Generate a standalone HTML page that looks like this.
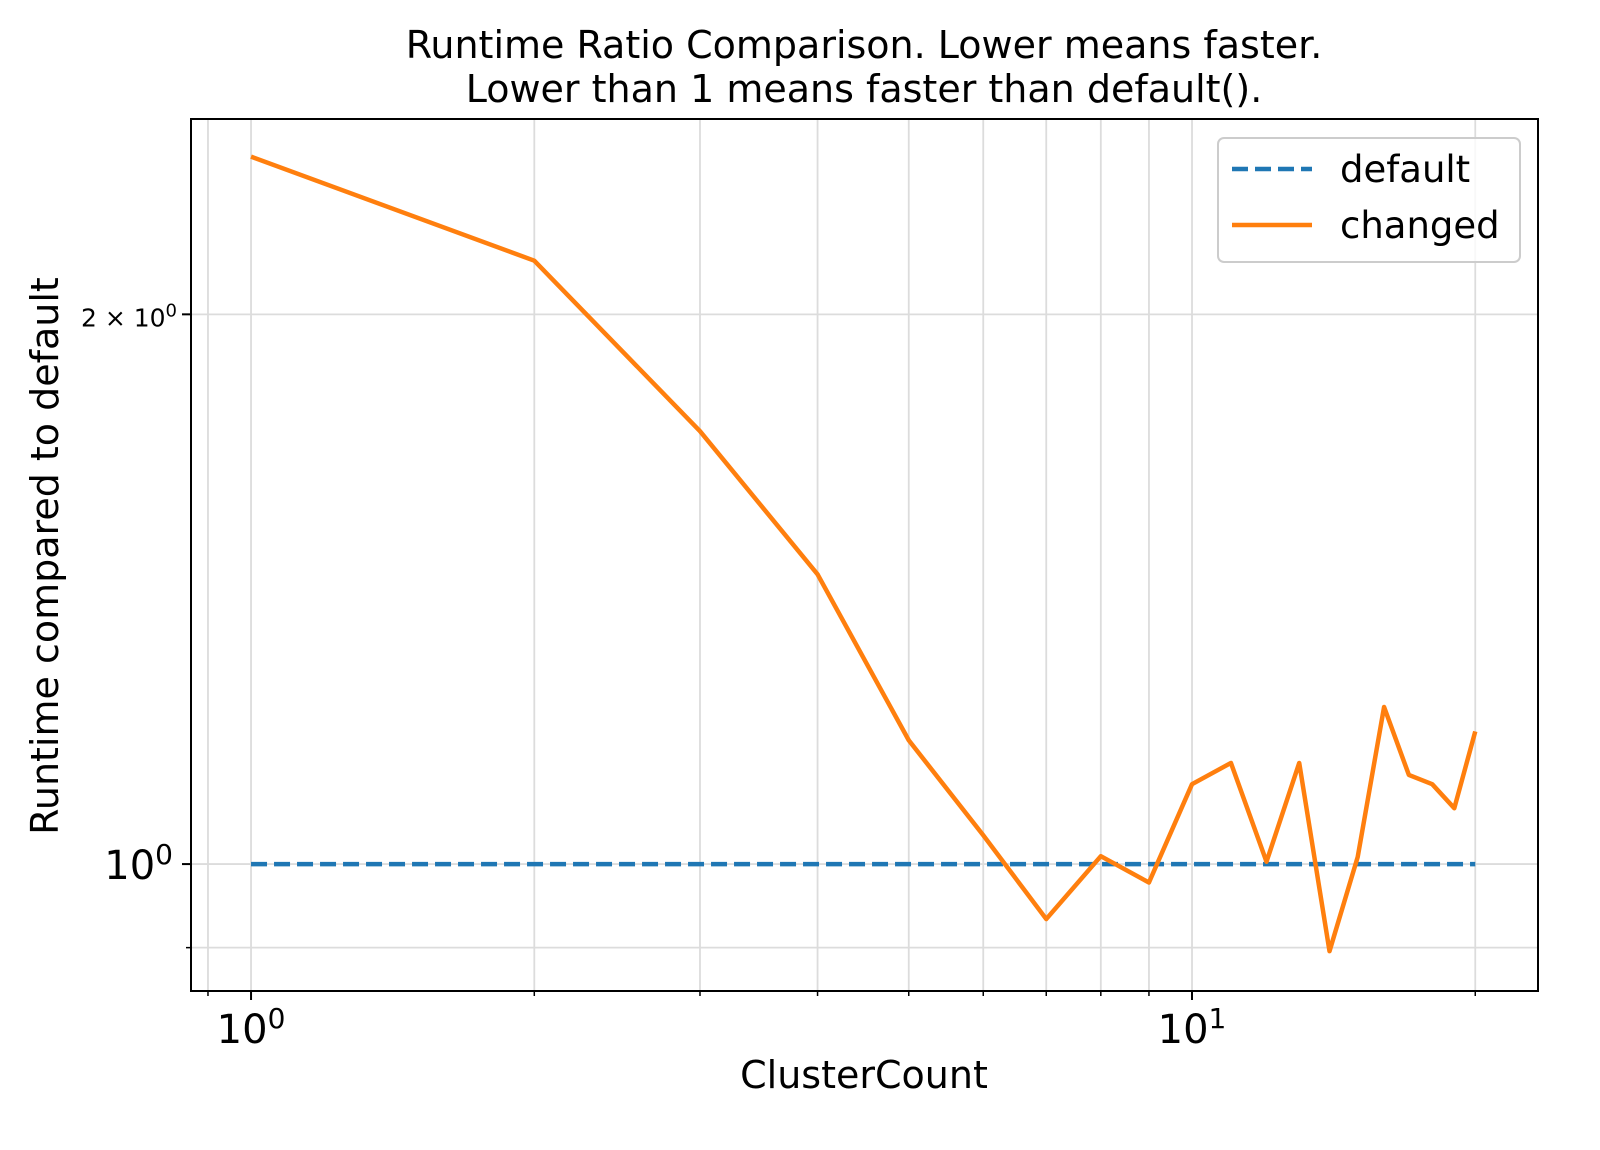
<!DOCTYPE html>
<html><head><meta charset="utf-8"><style>
body{margin:0;background:#fff;}
svg{display:block;font-family:"DejaVu Sans","Liberation Sans",sans-serif;}
</style></head><body>
<svg id="chart" width="1600" height="1150" viewBox="0 0 1600 1150" xmlns="http://www.w3.org/2000/svg">
<rect width="1600" height="1150" fill="#fff"/>
<g id="grid"></g>
<g id="series"></g>
<g id="ticks"></g>
<rect x="191" y="119" width="1347" height="872" fill="none" stroke="#000" stroke-width="2"/>
<text x="864" y="58" font-size="38" text-anchor="middle">Runtime Ratio Comparison. Lower means faster.</text>
<text x="864" y="102" font-size="38" text-anchor="middle">Lower than 1 means faster than default().</text>
<text x="864" y="1088" font-size="38" text-anchor="middle">ClusterCount</text>
<text transform="translate(58,556) rotate(-90)" font-size="38" text-anchor="middle">Runtime compared to default</text>
<g>
<rect x="1218" y="138" width="302" height="124" rx="6" fill="#fff" fill-opacity="0.8" stroke="#ccc" stroke-width="2"/>
<line x1="1232" y1="169" x2="1312" y2="169" stroke="#1f77b4" stroke-width="4.5" stroke-dasharray="16,7"/>
<text x="1340" y="182" font-size="37">default</text>
<line x1="1232" y1="225" x2="1312" y2="225" stroke="#ff7f0e" stroke-width="4.5"/>
<text x="1340" y="238" font-size="37">changed</text>
</g>
</svg>
<script>
const clusterCounts=[1,2,3,4,5,6,7,8,9,10,11,12,13,14,15,16,17,18,19,20];
const changedValues=[2.44,2.14,1.726,1.441,1.169,1.037,0.933,1.01,0.977,1.106,1.136,1.003,1.136,0.896,1.009,1.219,1.119,1.106,1.073,1.182];
const defaultValues=[1,1,1,1,1,1,1,1,1,1,1,1,1,1,1,1,1,1,1,1];
const xMajorTicks=[1,10];
const xMajorLabels=["0","1"];
const xMinorTicks=[0.9,2,3,4,5,6,7,8,9,20];
const yMajorTicks=[1,2];
const yMinorTicks=[0.9];

const NS="http://www.w3.org/2000/svg";
const L=191,R=1538,T=119,B=991;
const xLmin=-0.0638,xLmax=1.3677,yLmin=-0.0695,yLmax=0.408;
function xs(v){return L+(Math.log10(v)-xLmin)/(xLmax-xLmin)*(R-L);}
function ys(v){return B-(Math.log10(v)-yLmin)/(yLmax-yLmin)*(B-T);}
function mk(tag,attrs,parent){const e=document.createElementNS(NS,tag);for(const k in attrs)e.setAttribute(k,attrs[k]);parent.appendChild(e);return e;}
const grid=document.getElementById('grid'),ticks=document.getElementById('ticks'),series=document.getElementById('series');

[...xMajorTicks,...xMinorTicks].forEach(v=>{
 const g=mk('line',{x1:xs(v),x2:xs(v),y1:T,y2:B,stroke:'#dcdcdc','stroke-width':1.8},grid);
 
 
});
[...yMajorTicks,...yMinorTicks].forEach(v=>{
 const g=mk('line',{x1:L,x2:R,y1:ys(v),y2:ys(v),stroke:'#dcdcdc','stroke-width':1.8},grid);
 
 
});
xMajorTicks.forEach((v,i)=>{
 const t=mk('line',{x1:xs(v),x2:xs(v),y1:B,y2:B+9,stroke:'#000','stroke-width':2},ticks);
 
 
 const tx=mk('text',{x:xs(v),y:B+52,'font-size':40,'text-anchor':'middle'},ticks);
 
 
 tx.textContent='10';
 const sp=mk('tspan',{dy:-15,'font-size':28},tx);sp.textContent=xMajorLabels[i];
});
xMinorTicks.forEach(v=>{
 const t=mk('line',{x1:xs(v),x2:xs(v),y1:B,y2:B+5,stroke:'#000','stroke-width':1.5},ticks);
 
 
});
yMajorTicks.forEach(v=>{
 const t=mk('line',{x1:L-9,x2:L,y1:ys(v),y2:ys(v),stroke:'#000','stroke-width':2},ticks);
 
 
});
yMinorTicks.forEach(v=>{
 const t=mk('line',{x1:L-5,x2:L,y1:ys(v),y2:ys(v),stroke:'#000','stroke-width':1.5},ticks);
 
 
});
const y1=mk('text',{x:L-18,y:ys(1)+15,'font-size':40,'text-anchor':'end'},ticks);


y1.textContent='10';
const y1s=mk('tspan',{dy:-15,'font-size':28},y1);y1s.textContent='0';
const y2=mk('text',{x:L-14,y:ys(2)+12,'font-size':25,'text-anchor':'end'},ticks);


y2.textContent='2 \u00d7 10';
const y2s=mk('tspan',{dy:-10,'font-size':18},y2);y2s.textContent='0';

const dp=mk('path',{d:defaultValues.map((v,i)=>(i?'L':'M')+xs(clusterCounts[i])+','+ys(v)).join(''),fill:'none',stroke:'#1f77b4','stroke-width':4.5,'stroke-dasharray':'16,7'},series);


const cp=mk('path',{d:changedValues.map((v,i)=>(i?'L':'M')+xs(clusterCounts[i])+','+ys(v)).join(''),fill:'none',stroke:'#ff7f0e','stroke-width':4.5,'stroke-linejoin':'round'},series);


</script>
</body></html>
